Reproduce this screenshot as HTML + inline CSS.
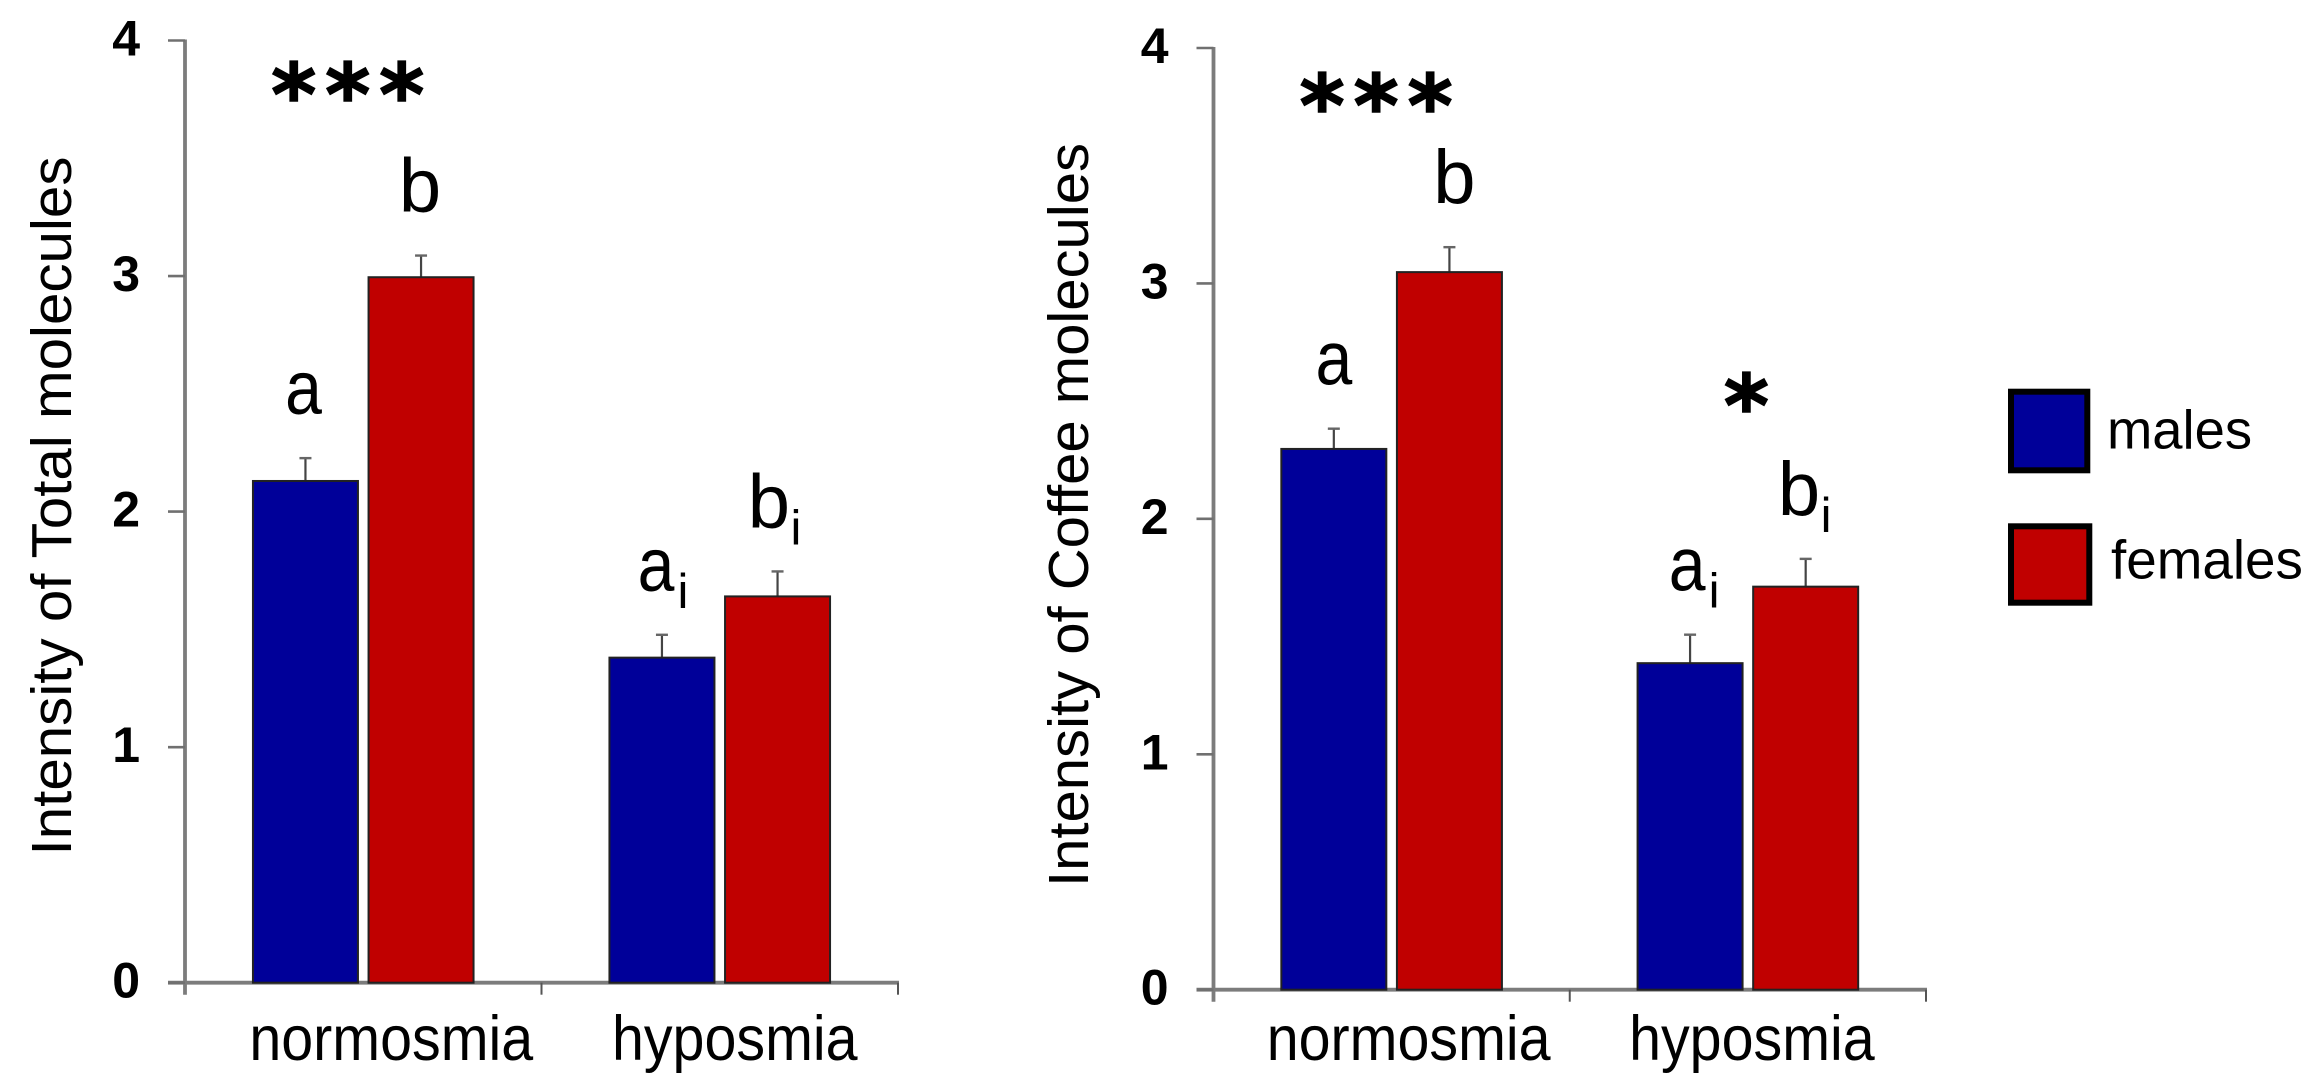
<!DOCTYPE html>
<html lang="en">
<head>
<meta charset="utf-8">
<title>Intensity of molecules by sex and olfactory status</title>
<style>
html,body{margin:0;padding:0;background:#fff;width:2321px;height:1091px;overflow:hidden}
svg{display:block}
text{font-family:"Liberation Sans",Arial,sans-serif;fill:#000}
</style>
</head>
<body>
<svg id="figure" xmlns="http://www.w3.org/2000/svg" width="2321" height="1091" viewBox="0 0 2321 1091">
  <g>
    <rect x="2011" y="391.7" width="76.3" height="78.6" fill="#000099" stroke="#000" stroke-width="6"/>
    <text x="2107" y="448.7" font-size="54.4">males</text>
    <rect x="2011" y="526.3" width="78.3" height="76.4" fill="#c00000" stroke="#000" stroke-width="6"/>
    <text x="2111" y="578.7" font-size="54.8">females</text>
  </g>
</svg>
<script>
const categories = ['normosmia', 'hyposmia'];
const seriesNames = ['males', 'females'];
const yTickLabels = [0, 1, 2, 3, 4];

const totalMales = [2.13, 1.38];
const totalFemales = [2.995, 1.64];
const totalMalesError = [0.097, 0.097];
const totalFemalesError = [0.092, 0.106];
const groupLetters = [['a', 'b'], ['a', 'b']];

const coffeeMales = [2.297, 1.387];
const coffeeFemales = [3.048, 1.712];
const coffeeMalesError = [0.086, 0.121];
const coffeeFemalesError = [0.106, 0.118];

const totalStars = ['***', ''];
const totalStarLevels = [3.82, 0];
const coffeeStars = ['***', '*'];
const coffeeStarLevels = [3.805, 2.53];

const NS = 'http://www.w3.org/2000/svg';
const root = document.getElementById('figure');
const SERIES_FILL = ['#000099', '#c00000'];

function make(parent, tag, attrs, content) {
  const el = document.createElementNS(NS, tag);
  for (const k in attrs) el.setAttribute(k, attrs[k]);
  if (content !== undefined) el.textContent = content;
  parent.appendChild(el);
  return el;
}

function drawPanel(cfg) {
  const g = make(root, 'g', {});
  
  

  const yScale = v => cfg.y0 - (v / 4) * (cfg.y0 - cfg.y4);
  const bandWidth = (cfg.x1 - cfg.x0) / categories.length;
  const bandCenter = i => cfg.x0 + bandWidth * (i + 0.5);
  const BAR_W = 105;
  const BAR_OFFSET = 57.8;
  const barCenter = (i, s) => bandCenter(i) + (s === 0 ? -BAR_OFFSET : BAR_OFFSET);

  // y axis line
  const yLine = make(g, 'line', {x1: cfg.x0, x2: cfg.x0, y1: yScale(4) - 1, y2: cfg.y0 + 12, stroke: '#7c7c7c', 'stroke-width': 3.8});
  
  

  // x axis line
  const xLine = make(g, 'line', {x1: cfg.x0 - 17, x2: cfg.x1 + 1, y1: cfg.y0, y2: cfg.y0, stroke: '#7c7c7c', 'stroke-width': 3.8});
  
  

  // y ticks and labels
  yTickLabels.forEach(v => {
    const t = make(g, 'line', {x1: cfg.x0 - 17, x2: cfg.x0, y1: yScale(v), y2: yScale(v), stroke: '#707070', 'stroke-width': 2.6});
    
    
    const l = make(g, 'text', {x: cfg.x0 - 45, y: yScale(v) + 15, 'text-anchor': 'end', 'font-size': 50, 'font-weight': 'bold'}, v);
    
    
  });

  // x ticks
  [1, 2].forEach(i => {
    const px = cfg.x0 + bandWidth * i;
    const t = make(g, 'line', {x1: px, x2: px, y1: cfg.y0, y2: cfg.y0 + 12, stroke: '#555', 'stroke-width': 2});
    
    
  });

  // bars, error bars, letters
  cfg.series.forEach((vals, s) => {
    vals.forEach((v, i) => {
      const cx = barCenter(i, s);
      const topErr = yScale(v + cfg.errors[s][i]);
      const stem = make(g, 'line', {x1: cx, x2: cx, y1: topErr, y2: yScale(v), stroke: '#444', 'stroke-width': 2.2});
      
      
      const cap = make(g, 'line', {x1: cx - 6, x2: cx + 6, y1: topErr, y2: topErr, stroke: '#666', 'stroke-width': 2.4});
      
      
      const bar = make(g, 'rect', {x: cx - BAR_W / 2, y: yScale(v), width: BAR_W, height: cfg.y0 - yScale(v), fill: SERIES_FILL[s], stroke: '#222', 'stroke-width': 2});
      
      

      const baseline = topErr - 44;
      const letter = groupLetters[i][s];
      const lx = cx + cfg.letterShift[i][s];
      const lab = make(g, 'text', {transform: 'translate(' + lx + ' ' + baseline + ') scale(' + (letter === 'a' ? 0.87 : 1) + ' 1)', 'text-anchor': 'middle', 'font-size': 76}, letter);
      
      
      if (i === 1) {
        const sub = make(g, 'text', {x: lx + 27, y: baseline + 17, 'text-anchor': 'middle', 'font-size': 49}, 'i');
        
        
      }
    });
  });

  // category labels (slightly stretched vertically, as in the source figure)
  categories.forEach((c, i) => {
    const px = bandCenter(i) + cfg.labelShift[i];
    const lab = make(g, 'text', {transform: 'translate(' + px + ' 1060) scale(1 1.1)', 'text-anchor': 'middle', 'font-size': 57.4}, c);
    
    
  });

  // y-axis title
  const title = make(g, 'text', {transform: 'translate(' + cfg.titleX + ' ' + cfg.titleY + ') rotate(-90)', 'text-anchor': 'middle', 'font-size': 56.5, textLength: cfg.titleLen, lengthAdjust: 'spacingAndGlyphs'}, cfg.title);
  
  

  // significance stars
  cfg.stars.forEach((st, i) => {
    if (!st) return;
    const px = bandCenter(i) + (st.length > 1 ? -14 : 0);
    const star = make(g, 'text', {x: px + 3, y: yScale(cfg.starLevels[i]) + 42, 'text-anchor': 'middle', 'font-size': 86, 'font-weight': 'bold', 'letter-spacing': 9, stroke: '#000', 'stroke-width': 1.6, style: 'font-family:"DejaVu Sans",sans-serif'}, st);
    
    
  });
}

drawPanel({
  name: 'total-molecules-chart',
  title: 'Intensity of Total molecules',
  x0: 185, x1: 898, y0: 982.7, y4: 40.5,
  series: [totalMales, totalFemales],
  errors: [totalMalesError, totalFemalesError],
  stars: totalStars, starLevels: totalStarLevels,
  labelShift: [28, 15],
  letterShift: [[-2, -1], [-6, -8.6]],
  titleX: 71, titleY: 506, titleLen: 699
});

drawPanel({
  name: 'coffee-molecules-chart',
  title: 'Intensity of Coffee molecules',
  x0: 1213.5, x1: 1926, y0: 989.7, y4: 48,
  series: [coffeeMales, coffeeFemales],
  errors: [coffeeMalesError, coffeeFemalesError],
  stars: coffeeStars, starLevels: coffeeStarLevels,
  labelShift: [17, 4],
  letterShift: [[0, 5], [-3, -6.6]],
  titleX: 1088, titleY: 515, titleLen: 744
});
</script>
</body>
</html>
